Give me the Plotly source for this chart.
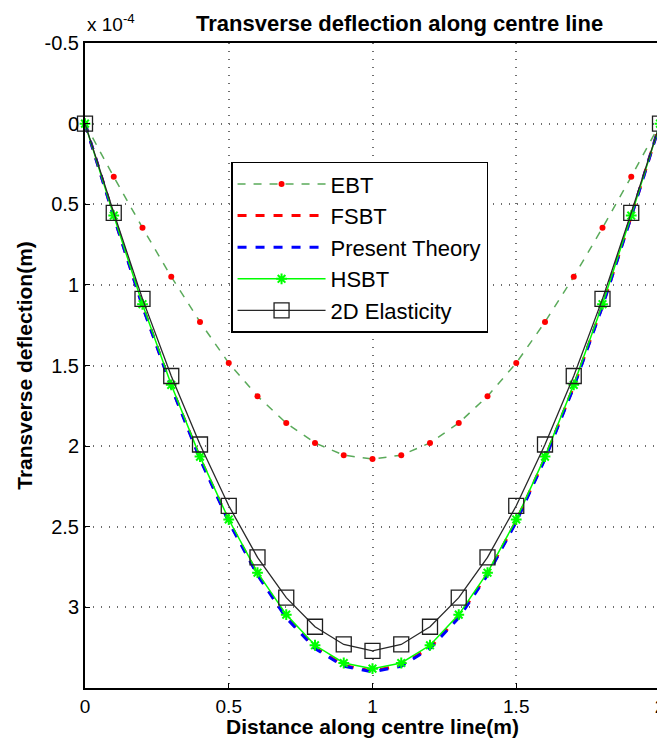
import plotly.graph_objects as go

x = [0.0, 0.1, 0.2, 0.3, 0.4, 0.5, 0.6, 0.7, 0.8, 0.9, 1.0,
     1.1, 1.2, 1.3, 1.4, 1.5, 1.6, 1.7, 1.8, 1.9, 2.0]

ebt = [0.0, 0.33, 0.646, 0.95, 1.23, 1.485, 1.69, 1.857, 1.98, 2.056, 2.08,
       2.056, 1.98, 1.857, 1.69, 1.485, 1.23, 0.95, 0.646, 0.33, 0.0]
fsbt = [0.0, 0.575, 1.13, 1.63, 2.075, 2.465, 2.795, 3.06, 3.25, 3.36, 3.395,
        3.36, 3.25, 3.06, 2.795, 2.465, 2.075, 1.63, 1.13, 0.575, 0.0]
present = [0.0, 0.577, 1.133, 1.634, 2.08, 2.47, 2.8, 3.065, 3.255, 3.365, 3.4,
           3.365, 3.255, 3.065, 2.8, 2.47, 2.08, 1.634, 1.133, 0.577, 0.0]
hsbt = [0.0, 0.57, 1.12, 1.62, 2.065, 2.455, 2.785, 3.045, 3.235, 3.345, 3.38,
        3.345, 3.235, 3.045, 2.785, 2.455, 2.065, 1.62, 1.12, 0.57, 0.0]
elast = [0.0, 0.553, 1.087, 1.565, 1.99, 2.37, 2.69, 2.94, 3.12, 3.23, 3.27,
         3.23, 3.12, 2.94, 2.69, 2.37, 1.99, 1.565, 1.087, 0.553, 0.0]

ytickvals = [-0.5, 0, 0.5, 1, 1.5, 2, 2.5, 3]
yticktext = ["-0.5", "0", "0.5", "1", "1.5", "2", "2.5", "3"]
xtickvals = [0, 0.5, 1, 1.5, 2]
xticktext = ["0", "0.5", "1", "1.5", "2"]

FONT = "Arial, Liberation Sans, sans-serif"

fig = go.Figure()
fig.add_trace(go.Scatter(
    x=x, y=ebt, name="EBT", mode="lines+markers",
    line=dict(color="rgb(90,170,90)", width=1.5, dash="8px,8px"),
    marker=dict(color="red", size=6, symbol="circle"), cliponaxis=False))
fig.add_trace(go.Scatter(
    x=x, y=fsbt, name="FSBT", mode="lines",
    line=dict(color="red", width=3, dash="dash"), cliponaxis=False))
fig.add_trace(go.Scatter(
    x=x, y=present, name="Present Theory", mode="lines",
    line=dict(color="blue", width=3, dash="dash"), cliponaxis=False))
fig.add_trace(go.Scatter(
    x=x, y=hsbt, name="HSBT", mode="lines+markers",
    line=dict(color="rgb(0,255,0)", width=1.5),
    marker=dict(color="rgb(0,255,0)", size=9, symbol="asterisk-open",
                line=dict(color="rgb(0,230,0)", width=2)), cliponaxis=False))
fig.add_trace(go.Scatter(
    x=x, y=elast, name="2D Elasticity", mode="lines+markers",
    line=dict(color="rgb(40,40,40)", width=1.3),
    marker=dict(symbol="square-open", size=15, color="rgb(30,30,30)",
                line=dict(width=1.3)), cliponaxis=False))

fig.update_layout(
    width=657, height=734,
    margin=dict(l=77, r=5, t=35, b=54),
    paper_bgcolor="white", plot_bgcolor="white",
    font=dict(family=FONT, size=20, color="black"),
    showlegend=True,
    legend=dict(x=0.254, y=0.816, xanchor="left", yanchor="top",
                bgcolor="white", bordercolor="black", borderwidth=1.5,
                font=dict(size=22, family=FONT), tracegroupgap=0,
                itemwidth=88),
    annotations=[
        dict(text="<b>Transverse deflection along centre line</b>",
             xref="paper", yref="paper", x=0.5, y=1.0, xanchor="center",
             yanchor="bottom", yshift=5, xshift=27, showarrow=False,
             font=dict(size=22, family=FONT)),
        dict(text="x 10<sup>-4</sup>", xref="paper", yref="paper",
             x=0.0, y=1.0, xanchor="left", yanchor="bottom", yshift=6,
             showarrow=False, font=dict(size=19, family=FONT)),
        dict(text="<b>Distance along centre line(m)</b>", xref="paper",
             yref="paper", x=0.5, y=0.0, xanchor="center", yanchor="top",
             yshift=-25, showarrow=False, font=dict(size=21, family=FONT)),
    ],
)
fig.update_xaxes(
    range=[0, 2], tickvals=xtickvals, ticktext=xticktext, automargin=False,
    ticklabeloverflow="allow",
    showline=True, linecolor="black", linewidth=2, mirror=True,
    ticks="inside", ticklen=5, tickcolor="black",
    showgrid=True, gridcolor="rgb(110,110,110)", griddash="1px,7px", gridwidth=1.5,
    zeroline=False, tickfont=dict(size=19),
)
fig.update_yaxes(
    range=[3.5, -0.5], tickvals=ytickvals, ticktext=yticktext, automargin=False,
    ticklabeloverflow="allow",
    showline=True, linecolor="black", linewidth=2, mirror=True,
    ticks="inside", ticklen=5, tickcolor="black",
    showgrid=True, gridcolor="rgb(110,110,110)", griddash="1px,7px", gridwidth=1.5,
    zeroline=False, tickfont=dict(size=20),
    title=dict(text="<b>Transverse deflection(m)</b>", standoff=6,
               font=dict(size=21)),
)

fig.write_html("out.html")
